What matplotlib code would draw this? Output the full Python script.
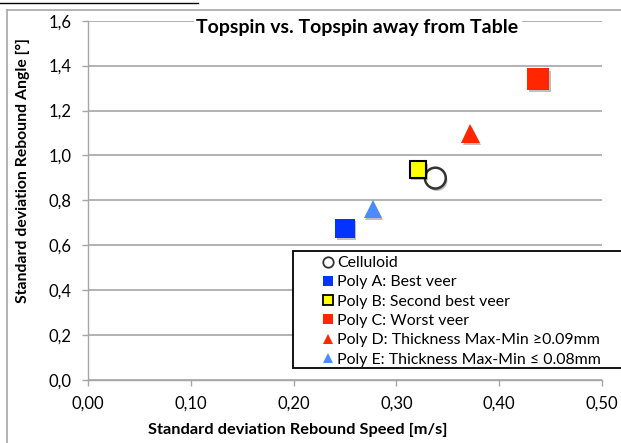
import matplotlib
matplotlib.use("Agg")
import matplotlib.pyplot as plt
from matplotlib.lines import Line2D
from matplotlib.patches import Rectangle
from matplotlib import patheffects as pe

plt.rcParams['font.family'] = ['Lato', 'DejaVu Sans']

# data
series_names = ["Celluloid", "Poly A: Best veer", "Poly B: Second best veer",
                "Poly C: Worst veer", "Poly D: Thickness Max-Min \u22650.09mm",
                "Poly E: Thickness Max-Min \u2264 0.08mm"]
speed_sd = [0.338, 0.250, 0.321, 0.438, 0.372, 0.277]
angle_sd = [0.899, 0.675, 0.938, 1.341, 1.098, 0.763]

x_ticks = [0.0, 0.1, 0.2, 0.3, 0.4, 0.5]
x_ticklabels = ["0,00", "0,10", "0,20", "0,30", "0,40", "0,50"]
y_ticks = [0.0, 0.2, 0.4, 0.6, 0.8, 1.0, 1.2, 1.4, 1.6]
y_ticklabels = ["0,0", "0,2", "0,4", "0,6", "0,8", "1,0", "1,2", "1,4", "1,6"]

title = "Topspin vs. Topspin away from Table"
x_label = "Standard deviation Rebound Speed [m/s]"
y_label = "Standard deviation Rebound Angle [\u00b0]"

# marker styles: (marker, size, face, edge, edge width)
styles = [
    ("o", 15.0, "white", "#333333", 1.8),
    ("s", 13.7, "#0433FF", "#0433FF", 0.0),
    ("s", 11.8, "#FFFF00", "black", 1.5),
    ("s", 15.6, "#FF2600", "#FF2600", 0.0),
    ("^", 13.5, "#FF2600", "#FF2600", 0.0),
    ("^", 13.0, "#4A8CFF", "#4A8CFF", 0.0),
]

W, H = 621, 443
GRAY = "#A6A6A6"


def fx(px):
    return px / W


def fy(py):
    return 1 - py / H


fig = plt.figure(figsize=(W / 100, H / 100), dpi=100)
ax = fig.add_axes([fx(88.3), fy(380), fx(601.7) - fx(88.3), fy(20.7) - fy(380)])

shadow = [pe.SimplePatchShadow(offset=(1.2, -1.8), shadow_rgbFace="black", alpha=0.25), pe.Normal()]
for i, name in enumerate(series_names):
    m, ms, fc, ec, ew = styles[i]
    ax.plot([speed_sd[i]], [angle_sd[i]], linestyle="none", marker=m, markersize=ms,
            markerfacecolor=fc, markeredgecolor=ec, markeredgewidth=ew,
            path_effects=shadow, zorder=3, clip_on=False)

ax.set_xlim(0, 0.5)
ax.set_ylim(0, 1.6)
ax.set_xticks(x_ticks)
ax.set_xticklabels(x_ticklabels)
ax.set_yticks(y_ticks)
ax.set_yticklabels(y_ticklabels)
ax.tick_params(axis="both", direction="out", length=4, width=1.0, color=GRAY,
               labelsize=12, labelcolor="black")
ax.tick_params(axis="y", pad=8)
ax.tick_params(axis="x", pad=7)
ax.yaxis.grid(True, color=GRAY, linewidth=1.2)
ax.set_axisbelow(True)
for s in ["top", "right"]:
    ax.spines[s].set_visible(False)
for s in ["left", "bottom"]:
    ax.spines[s].set_color(GRAY)
    ax.spines[s].set_linewidth(1.0)

# outer chart frame and the page rule above it
fig.add_artist(Line2D([fx(7.3), fx(7.3)], [fy(9.6), 0], color=GRAY, linewidth=1.2))
fig.add_artist(Line2D([fx(7.3), 1], [fy(9.6), fy(9.6)], color=GRAY, linewidth=1.2))
fig.add_artist(Line2D([0, fx(198)], [fy(3.4), fy(3.4)], color="black", linewidth=1.0))

# title over the top gridline
fig.add_artist(Rectangle((fx(194), fy(35)), fx(522) - fx(194), fy(14) - fy(35),
                         facecolor="white", edgecolor="none", transform=fig.transFigure))
fig.text(fx(357.5), fy(27), title, fontsize=14, fontweight="bold", ha="center", va="center")

fig.text(fx(297.5), fy(430), x_label, fontsize=11.8, fontweight="bold", ha="center", va="center")
fig.text(fx(22.5), fy(170.5), y_label, fontsize=11.3, fontweight="bold", ha="center", va="center",
         rotation=90)

# legend
fig.add_artist(Rectangle((fx(292.7), fy(367.7)), 1.2, fy(251) - fy(367.7),
                         facecolor="white", edgecolor="black", linewidth=1.3,
                         transform=fig.transFigure, zorder=4))
handles = []
for i, name in enumerate(series_names):
    m, ms, fc, ec, ew = styles[i]
    handles.append(Line2D([], [], linestyle="none", marker=m, markersize=7.5,
                          markerfacecolor=fc, markeredgecolor=ec,
                          markeredgewidth=1.3 if ew else 0.0))
leg = fig.legend(handles=handles, labels=series_names, loc="upper left",
                 bbox_to_anchor=(fx(322), fy(256)), frameon=False, fontsize=11.4,
                 handlelength=0.75, handletextpad=0.2, labelspacing=0.33,
                 borderpad=0, borderaxespad=0)
leg.set_zorder(5)

fig.savefig("out.png", dpi=100)
